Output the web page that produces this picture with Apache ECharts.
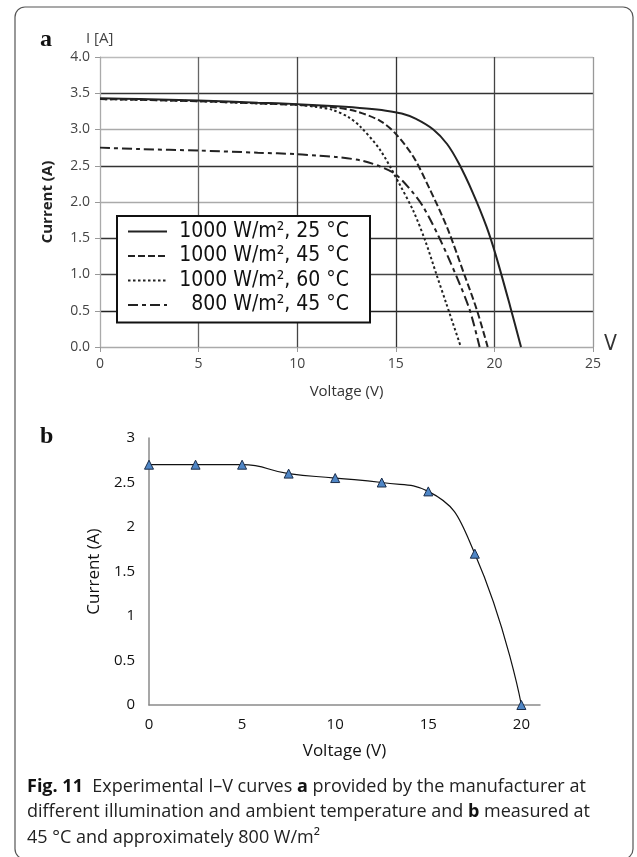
<!DOCTYPE html>
<html>
<head>
<meta charset="utf-8">
<script src="https://cdn.jsdelivr.net/npm/echarts@6/dist/echarts.min.js"></script>
<style>
  html, body { margin: 0; padding: 0; background: #fff; }
  #chart { width: 637px; height: 857px; }
</style>
</head>
<body>
<div id="chart"></div>
<script>
// panel a - curves from the manufacturer datasheet
const legendNames = ['1000 W/m², 25 °C', '1000 W/m², 45 °C', '1000 W/m², 60 °C', '800 W/m², 45 °C'];

const v25 = [0, 2, 5, 8, 10, 12, 13.5, 14.5, 15.3, 16, 16.9, 17.6, 18.2, 18.9, 19.6, 20.1, 20.8, 21.35];
const i25 = [3.43, 3.42, 3.40, 3.37, 3.35, 3.32, 3.29, 3.26, 3.22, 3.15, 3.0, 2.80, 2.53, 2.13, 1.66, 1.24, 0.56, 0];

const v45 = [0, 2, 5, 8, 10, 12, 13, 14.2, 15, 15.9, 16.7, 17.6, 18.5, 19.1, 19.66];
const i45 = [3.42, 3.41, 3.39, 3.36, 3.34, 3.30, 3.25, 3.12, 2.94, 2.62, 2.19, 1.65, 0.98, 0.52, 0];

const v60 = [0, 2, 5, 8, 10, 11, 11.8, 12.6, 13.2, 14.2, 15.2, 15.9, 16.5, 17.05, 17.56, 18.3];
const i60 = [3.42, 3.41, 3.39, 3.36, 3.34, 3.31, 3.27, 3.17, 3.04, 2.72, 2.24, 1.87, 1.46, 1.01, 0.60, 0];

const v800 = [0, 2, 5, 8, 10, 11, 12, 13.3, 14.2, 15, 15.9, 16.4, 17.2, 18.1, 18.75, 19.25];
const i800 = [2.75, 2.73, 2.71, 2.68, 2.66, 2.64, 2.62, 2.57, 2.49, 2.38, 2.12, 1.93, 1.51, 0.96, 0.51, 0];

// panel b - measured at 45 C, ~800 W/m2
const vMeas = [0, 2.5, 5, 7.5, 10, 12.5, 15, 17.5, 20];
const iMeas = [2.7, 2.7, 2.7, 2.6, 2.55, 2.5, 2.4, 1.7, 0];

const pts = (xs, ys) => xs.map((x, k) => [x, ys[k]]);

const chart = echarts.init(document.getElementById('chart'));

const lineA = (name, xs, ys, type) => ({
  name: name,
  type: 'line',
  xAxisIndex: 0,
  yAxisIndex: 0,
  data: pts(xs, ys),
  symbol: 'none',
  smooth: 0.3,
  silent: true,
  itemStyle: { color: '#222' },
  lineStyle: { color: '#222', width: 2, type: type }
});

const labelFont = 'Open Sans';
const narrowFont = '"DejaVu Sans Condensed", Roboto, sans-serif';

const option = {
  animation: false,
  backgroundColor: '#fff',
  grid: [
    { left: 100, right: 44, top: 57, bottom: 510 },
    { left: 149, right: 97, top: 438, bottom: 152 }
  ],
  legend: {
    data: legendNames,
    orient: 'vertical',
    left: 117,
    top: 216,
    padding: [5, 21, 7, 10],
    itemWidth: 39,
    itemHeight: 14,
    itemGap: 3.5,
    backgroundColor: '#fff',
    borderColor: '#111',
    borderWidth: 2,
    selectedMode: false,
    itemStyle: { opacity: 0 },
    formatter: n => '{t|' + n + '}',
    textStyle: {
      rich: {
        t: { fontFamily: narrowFont, fontSize: 21, width: 177, align: 'right', color: '#111', lineHeight: 24 }
      }
    }
  },
  xAxis: [
    {
      gridIndex: 0, type: 'value', min: 0, max: 25, interval: 5,
      name: 'Voltage (V)', nameLocation: 'middle', nameGap: 37,
      nameTextStyle: { fontFamily: labelFont, fontSize: 15, color: '#333' },
      axisLine: { lineStyle: { color: '#aaa', width: 1 } },
      axisTick: { show: true, length: 5, lineStyle: { color: '#999' } },
      axisLabel: { fontFamily: labelFont, fontSize: 14, color: '#444', margin: 10 },
      splitLine: { show: true, lineStyle: { width: 1.3, color: ['#aaa', '#666', '#444', '#333', '#444', '#999'] } }
    },
    {
      gridIndex: 1, type: 'value', min: 0, max: 21, interval: 5,
      name: 'Voltage (V)', nameLocation: 'middle', nameGap: 38,
      nameTextStyle: { fontFamily: labelFont, fontSize: 17, color: '#111' },
      axisLine: { lineStyle: { color: '#8a8a8a', width: 1.5 } },
      axisTick: { show: false },
      axisLabel: { fontFamily: labelFont, fontSize: 15, color: '#111', margin: 12, showMaxLabel: false },
      splitLine: { show: false }
    }
  ],
  yAxis: [
    {
      gridIndex: 0, type: 'value', min: 0, max: 4, interval: 0.5,
      name: 'Current (A)', nameLocation: 'middle', nameGap: 45,
      nameTextStyle: { fontFamily: labelFont, fontSize: 15, fontWeight: 'bold', color: '#222' },
      axisLine: { show: true, lineStyle: { color: '#aaa', width: 1 } },
      axisTick: { show: true, length: 5, lineStyle: { color: '#999' } },
      axisLabel: { fontFamily: labelFont, fontSize: 14, color: '#444', margin: 10, formatter: v => v.toFixed(1) },
      splitLine: { show: true, lineStyle: { width: 1.3, color: ['#aaa', '#222', '#444', '#333', '#aaa', '#333', '#aaa', '#333', '#bbb'] } }
    },
    {
      gridIndex: 1, type: 'value', min: 0, max: 3, interval: 0.5,
      name: 'Current (A)', nameLocation: 'middle', nameGap: 46,
      nameTextStyle: { fontFamily: labelFont, fontSize: 17, color: '#111' },
      axisLine: { show: true, lineStyle: { color: '#8a8a8a', width: 1.5 } },
      axisTick: { show: false },
      axisLabel: { fontFamily: labelFont, fontSize: 15, color: '#111', margin: 14 },
      splitLine: { show: false }
    }
  ],
  series: [
    lineA(legendNames[0], v25, i25, 'solid'),
    lineA(legendNames[1], v45, i45, [7, 3]),
    lineA(legendNames[2], v60, i60, [2.5, 2.5]),
    lineA(legendNames[3], v800, i800, [10, 4, 4, 4]),
    {
      name: 'measured',
      type: 'line',
      xAxisIndex: 1,
      yAxisIndex: 1,
      data: pts(vMeas, iMeas),
      smooth: 0.5,
      clip: false,
      silent: true,
      symbol: 'triangle',
      symbolSize: 9,
      itemStyle: { color: '#4f86c6', borderColor: '#1c2e4a', borderWidth: 1 },
      lineStyle: { color: '#111', width: 1.2 }
    }
  ],
  graphic: [
    {
      type: 'rect', silent: true,
      shape: { x: 15, y: 7, width: 618, height: 852, r: 10 },
      style: { fill: 'none', stroke: '#555', lineWidth: 1.2 }
    },
    { type: 'text', left: 40, top: 28, style: { text: 'a', font: 'bold 24px "Liberation Serif"', fill: '#111' } },
    { type: 'text', left: 86, top: 31, style: { text: 'I [A]', font: '15px "Open Sans"', fill: '#444' } },
    { type: 'text', left: 604, top: 334, style: { text: 'V', fontFamily: narrowFont, fontSize: 21, fill: '#333' } },
    { type: 'text', left: 40, top: 425, style: { text: 'b', font: 'bold 24px "Liberation Serif"', fill: '#111' } },
    {
      type: 'text', left: 27, top: 774,
      style: {
        text: '{b|Fig. 11}  Experimental I–V curves {b|a} provided by the manufacturer at\n' +
              'different illumination and ambient temperature and {b|b} measured at\n' +
              '45 °C and approximately 800 W/m²',
        fontFamily: 'Open Sans', fontSize: 18, lineHeight: 25.5, fill: '#222',
        rich: { b: { fontFamily: 'Open Sans', fontSize: 18, fontWeight: 'bold', fill: '#111' } }
      }
    }
  ]
};

chart.setOption(option);
</script>
</body>
</html>
